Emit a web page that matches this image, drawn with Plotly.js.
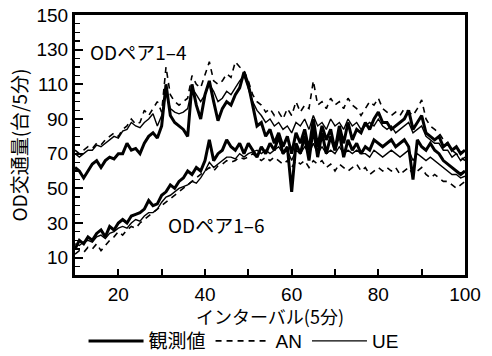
<!DOCTYPE html>
<html>
<head>
<meta charset="utf-8">
<script src="https://cdn.plot.ly/plotly-3.0.1.min.js"></script>
<style>html,body{margin:0;padding:0;background:#fff;}#chart{width:492px;height:356px;}</style>
</head>
<body>
<div id="chart"></div>
<script>
// interval index 10..100
const intervals = [10,11,12,13,14,15,16,17,18,19,20,21,22,23,24,25,26,27,28,29,30,31,32,33,34,35,36,37,38,39,40,41,42,43,44,45,46,47,48,49,50,51,52,53,54,55,56,57,58,59,60,61,62,63,64,65,66,67,68,69,70,71,72,73,74,75,76,77,78,79,80,81,82,83,84,85,86,87,88,89,90,91,92,93,94,95,96,97,98,99,100];

// OD pair 1-4
const obs14 = [62,60,56,60,64,66,62,66,68,67,70,70,76,72,73,70,76,80,82,79,86,110,92,88,86,84,80,110,98,90,104,112,100,89,96,100,98,104,108,117,110,98,86,88,80,84,76,82,74,80,70,82,76,84,72,90,74,86,78,84,72,86,76,88,78,84,82,88,84,90,94,88,88,84,86,88,90,95,84,88,92,82,80,78,80,74,76,72,74,70,72];
const an14 = [72,70,72,74,73,76,75,78,80,82,80,84,86,90,87,88,95,92,96,100,94,120,104,100,98,100,102,115,110,108,115,123,112,110,112,116,114,123,120,118,112,104,100,98,94,96,92,94,90,96,92,100,94,98,96,112,98,100,96,102,98,100,96,102,98,96,92,96,100,98,102,96,94,92,94,92,96,94,92,96,101,90,86,84,82,78,76,72,70,68,66];
const ue14 = [70,68,70,72,72,75,74,76,78,80,79,83,84,88,86,85,88,90,93,86,92,105,96,94,93,94,96,108,104,100,104,110,106,100,102,106,104,108,112,115,108,100,95,92,88,90,86,88,84,86,82,88,86,90,84,92,86,88,84,90,86,88,84,90,86,88,84,86,88,86,90,86,84,86,82,84,86,88,82,84,86,80,78,76,76,72,72,68,70,66,68];

// OD pair 1-6
const obs16 = [15,20,18,22,20,24,26,22,28,26,30,32,30,34,35,36,38,43,40,41,46,48,52,50,54,56,60,58,62,60,66,78,66,70,72,78,74,72,76,70,76,72,68,74,70,76,72,80,70,74,48,76,70,80,66,85,68,82,70,80,72,82,68,78,72,76,70,74,72,78,76,74,76,78,74,76,78,74,55,78,74,72,76,72,70,66,64,62,60,58,60];
const an16 = [12,14,13,16,15,18,14,17,20,22,25,23,26,28,27,30,32,34,36,38,40,42,44,46,48,50,52,54,56,58,60,62,60,63,64,66,65,66,68,67,68,70,68,66,68,66,68,66,64,66,62,66,64,66,62,66,64,66,62,64,60,64,62,60,62,64,60,62,58,60,62,60,62,60,62,58,60,62,58,60,62,58,56,58,56,54,54,52,50,52,54];
const ue16 = [18,17,19,20,19,22,23,21,24,25,27,28,27,30,32,31,34,36,36,38,42,45,46,48,50,51,52,54,53,56,60,65,62,64,66,68,68,67,70,68,70,71,72,70,72,70,72,74,70,72,66,72,70,74,70,76,70,74,70,72,70,74,70,72,70,72,70,70,68,72,70,68,70,72,70,68,70,72,66,70,68,66,68,66,64,62,60,58,58,56,57];

const seriesNames = ['観測値', 'AN', 'UE'];
const xTickVals = [20,40,60,80,100];
const xMinorVals = [30,50,70,90];
const yTickVals = [10,30,50,70,90,110,130,150];
const pairLabels = ['ODペア1–4', 'ODペア1–6'];
const xTitle = 'インターバル(5分)';
const yTitle = 'OD交通量(台/5分)';

const jp = '"Noto Sans CJK JP", "Liberation Sans", Arial, sans-serif';
const lat = '"Liberation Sans", Arial, sans-serif';
const mix = '"Liberation Sans", "Noto Sans CJK JP", Arial, sans-serif';

const styleObs = {color:'#000', width:3};
const styleAN = {color:'#000', width:1.6, dash:'6px,5px'};
const styleUE = {color:'#000', width:1.4};

const traces = [
  {x:intervals, y:obs14, name:seriesNames[0], legendgroup:'obs', mode:'lines', line:styleObs, showlegend:true},
  {x:intervals, y:an14, name:seriesNames[1], legendgroup:'an', mode:'lines', line:styleAN, showlegend:true},
  {x:intervals, y:ue14, name:seriesNames[2], legendgroup:'ue', mode:'lines', line:styleUE, showlegend:true},
  {x:intervals, y:obs16, name:seriesNames[0], legendgroup:'obs', mode:'lines', line:styleObs, showlegend:false},
  {x:intervals, y:an16, name:seriesNames[1], legendgroup:'an', mode:'lines', line:styleAN, showlegend:false},
  {x:intervals, y:ue16, name:seriesNames[2], legendgroup:'ue', mode:'lines', line:styleUE, showlegend:false}
];

const layout = {
  width:492, height:356,
  margin:{l:75, r:27, t:15, b:81},
  paper_bgcolor:'#fff', plot_bgcolor:'#fff',
  showlegend:true,
  legend:{orientation:'h', x:0.495, xref:'container', xanchor:'center', y:0.042, yref:'container', yanchor:'middle',
          font:{family:mix, size:19, color:'#000'}, itemwidth:55, tracegroupgap:0,
          bgcolor:'rgba(0,0,0,0)'},
  xaxis:{range:[10,100], tickvals:xTickVals, ticktext:xTickVals.map(String), automargin:false,
         ticks:'inside', ticklen:6, tickwidth:2, tickcolor:'#000',
         minor:{tickvals:xMinorVals, ticks:'inside', ticklen:6, tickwidth:2, tickcolor:'#000'},
         showline:true, linewidth:3, linecolor:'#000', mirror:true, showgrid:false, zeroline:false,
         tickfont:{family:lat, size:19, color:'#000'}},
  yaxis:{range:[0,150], tickvals:yTickVals, ticktext:yTickVals.map(String), automargin:false,
         ticks:'inside', ticklen:8, tickwidth:2, tickcolor:'#000',
         minor:{dtick:5, tick0:0, ticks:'inside', ticklen:5, tickwidth:1.5, tickcolor:'#000'},
         showline:true, linewidth:3, linecolor:'#000', mirror:true, showgrid:false, zeroline:false,
         tickfont:{family:lat, size:19, color:'#000'},
         title:{text:yTitle, font:{family:jp, size:19, color:'#000'}, standoff:4}},
  annotations:[
    {x:13, y:129, xref:'x', yref:'y', text:pairLabels[0], showarrow:false, xanchor:'left', yanchor:'middle',
     font:{family:jp, size:19, color:'#000'}},
    {x:31, y:29, xref:'x', yref:'y', text:pairLabels[1], showarrow:false, xanchor:'left', yanchor:'middle',
     font:{family:jp, size:19, color:'#000'}},
    {x:0.5, y:-0.157, xref:'paper', yref:'paper', text:xTitle, showarrow:false, xanchor:'center', yanchor:'middle',
     font:{family:jp, size:18, color:'#000'}}
  ]
};

Plotly.newPlot('chart', traces, layout, {staticPlot:true, displayModeBar:false});
</script>
</body>
</html>
